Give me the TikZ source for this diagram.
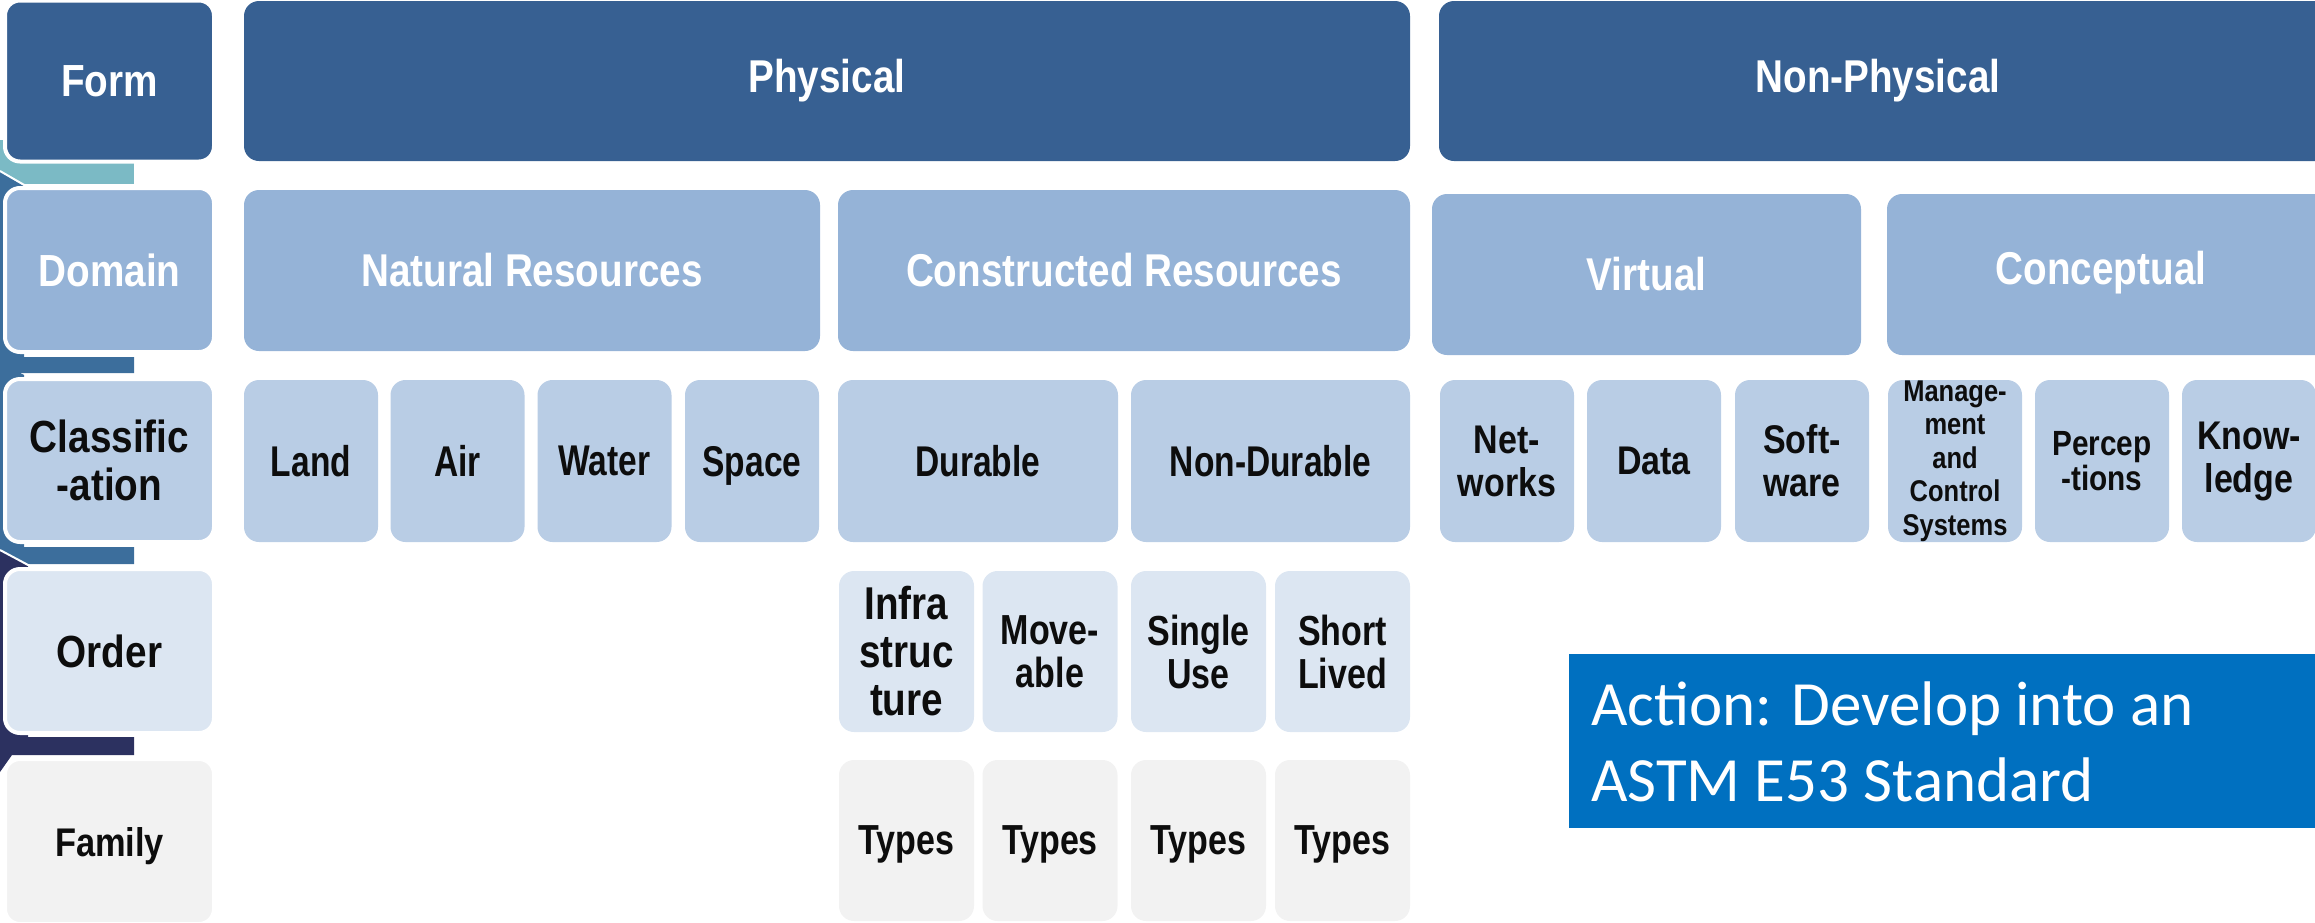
\documentclass[tikz,border=0pt]{standalone}
\usepackage{fontspec}
\setmainfont{Liberation Sans}
\newfontfamily\fDom[FakeStretch=0.84]{Liberation Sans}
\newfontfamily\fCls[FakeStretch=0.78]{Liberation Sans}
\newfontfamily\fNP[FakeStretch=0.85]{Liberation Sans}
\newfontfamily\fOrd[FakeStretch=0.81]{Liberation Sans}
\newfontfamily\fInf[FakeStretch=0.84]{Liberation Sans}
\newfontfamily\fLeft[FakeStretch=0.86]{Liberation Sans}
\newfontfamily\fAct{Carlito}
\definecolor{cA}{RGB}{55,96,146}
\definecolor{cB}{RGB}{149,179,215}
\definecolor{cC}{RGB}{185,205,229}
\definecolor{cD}{RGB}{220,230,242}
\definecolor{cE}{RGB}{242,242,242}
\definecolor{cTxt}{RGB}{13,13,13}
\definecolor{cTeal}{RGB}{123,186,197}
\definecolor{cSteel}{RGB}{60,110,156}
\definecolor{cNavy}{RGB}{44,49,96}
\definecolor{cAct}{RGB}{0,112,192}
\begin{document}
\begin{tikzpicture}[x=1pt,y=-1pt,
  box/.style={rectangle, rounded corners=15pt, inner sep=0pt, align=center},
  one/.style={text depth=0pt},
  lvA/.style={box, fill=cA, text=white, font=\fDom\bfseries\fontsize{46}{48}\selectfont, minimum height=160pt},
  lvB/.style={box, fill=cB, text=white, font=\fDom\bfseries\fontsize{46}{48}\selectfont, minimum height=161pt},
  lvC/.style={box, fill=cC, text=cTxt, font=\fCls\bfseries\fontsize{43}{45}\selectfont, minimum height=162pt},
  npC/.style={lvC, font=\fNP\bfseries\fontsize{40}{43}\selectfont, minimum width=134pt},
  lvD/.style={box, fill=cD, text=cTxt, font=\fOrd\bfseries\fontsize{42}{43}\selectfont, minimum height=161pt, minimum width=135pt},
  lvE/.style={box, one, fill=cE, text=cTxt, font=\fOrd\bfseries\fontsize{42}{43}\selectfont, minimum height=161pt, minimum width=135pt},
  side/.style={draw=white, line width=4pt, minimum width=209pt},
  lefttxt/.style={font=\fLeft\bfseries\fontsize{45}{48}\selectfont},
  plain/.style={inner sep=0pt, align=center}
]
\useasboundingbox (0,0) rectangle (2315,922);
\clip (0,0) rectangle (2315,922);

% left bands
\fill[cTeal] (0,140) rectangle (134,184);
\fill[cSteel] (0,172) -- (24,186) -- (24,357) -- (134,357) -- (134,373) -- (0,373) -- cycle;
\fill[cSteel] (0,362) -- (24,375) -- (24,547) -- (134,547) -- (134,564) -- (0,564) -- cycle;
\fill[cNavy] (0,551) -- (28,566) -- (28,737) -- (134,737) -- (134,755) -- (12,755) -- (0,772) -- cycle;
\draw[white, line width=2pt] (0,171) -- (26,186);
\draw[white, line width=2pt] (0,550) -- (30,566);

% left column
\node[lvA, side, minimum height=161pt, lefttxt] (form) at (109.5,81) {Form};
\node[lvB, side, minimum height=164pt, lefttxt] (domain) at (109.5,270) {Domain};
\node[lvC, side, minimum height=163pt, lefttxt] (classif) at (109.5,460.5) {Classific\\-ation};
\node[lvD, side, one, minimum height=164pt, lefttxt] (order) at (109.5,651) {Order};
\node[lvE, side, minimum height=165pt, font=\fLeft\bfseries\fontsize{40}{42}\selectfont] (family) at (109.5,841.5) {Family};

% row 1
\node[lvA, minimum width=1166pt] (physical) at (827,81) {Physical};
\node[lvA, minimum width=891pt] (nonphys) at (1884.5,81) {};
\node[plain, text=white, font=\fDom\bfseries\fontsize{46}{48}\selectfont] (nonphysT) at (1878,81) {Non-Physical};

% row 2
\node[lvB, minimum width=576pt] (natural) at (532,270.5) {Natural Resources};
\node[lvB, minimum width=572pt] (constructed) at (1124,270.5) {Constructed Resources};
\node[lvB, minimum width=429pt] (virtual) at (1646.5,274.5) {Virtual};
\node[lvB, minimum width=443pt] (conceptual) at (2108.5,274.5) {};
\node[plain, text=white, font=\fDom\bfseries\fontsize{46}{48}\selectfont] (conceptualT) at (2101,272.5) {Conceptual};

% row 3
\node[lvC, one, minimum width=134pt] (land) at (311,461) {Land};
\node[lvC, one, minimum width=134pt] (air) at (457.5,461) {Air};
\node[lvC, one, minimum width=134pt] (water) at (604.5,461) {Water};
\node[lvC, one, minimum width=134pt] (space) at (752,461) {Space};
\node[lvC, one, minimum width=280pt] (durable) at (978,461) {Durable};
\node[lvC, one, minimum width=279pt] (nondurable) at (1270.5,461) {Non-Durable};
\node[npC] (networks) at (1507,461) {Net-\\works};
\node[npC, one] (data) at (1654,461) {Data};
\node[npC] (software) at (1802,461) {Soft-\\ware};
\node[npC, font=\fNP\bfseries\fontsize{30}{33.5}\selectfont] (mgmt) at (1955,461) {Manage-\\ment\\and\\Control\\Systems};
\node[npC, font=\fNP\bfseries\fontsize{35}{35}\selectfont] (percep) at (2102,461) {Percep\\-tions};
\node[npC] (knowledge) at (2249,461) {Know-\\ledge};

% row 4
\node[lvD, font=\fInf\bfseries\fontsize{46}{48}\selectfont] (infra) at (906.5,651.5) {Infra\\struc\\ture};
\node[lvD] (moveable) at (1050,651.5) {Move-\\able};
\node[lvD] (singleuse) at (1198.5,651.5) {Single\\Use};
\node[lvD] (shortlived) at (1342.5,651.5) {Short\\Lived};

% row 5
\node[lvE] (typesA) at (906.5,840.5) {Types};
\node[lvE] (typesB) at (1050,840.5) {Types};
\node[lvE] (typesC) at (1198.5,840.5) {Types};
\node[lvE] (typesD) at (1342.5,840.5) {Types};

% action box
\node[rectangle, fill=cAct, inner sep=0pt, minimum width=761pt, minimum height=174pt] (action) at (1949.5,741) {};
\node[inner sep=0pt, anchor=west, align=left, text=white, font=\fAct\fontsize{63}{76}\selectfont] (actionT) at (1591,742) {Action: Develop into an\\ASTM E53 Standard};
\end{tikzpicture}
\end{document}
